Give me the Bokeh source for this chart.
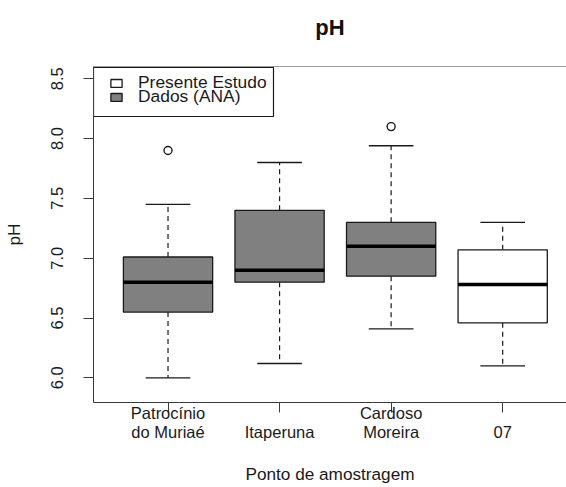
from bokeh.plotting import figure
from bokeh.models import (Range1d, FixedTicker, Legend, LegendItem, Span, BoxAnnotation,
                          ColumnDataSource, PrintfTickFormatter)
from bokeh.embed import file_html
from bokeh.resources import INLINE

# Sampling points (x positions 1..4) and their axis labels
pontos = ["Patrocínio do Muriaé", "Itaperuna", "Cardoso Moreira", "07"]
rotulos = ["Patrocínio\ndo Muriaé", "\nItaperuna", "Cardoso\nMoreira", "\n07"]
posicao = [1, 2, 3, 4]

# Box statistics of pH at each point
lim_inf = [6.00, 6.12, 6.41, 6.10]
q1 = [6.55, 6.80, 6.85, 6.46]
mediana = [6.80, 6.90, 7.10, 6.78]
q3 = [7.01, 7.40, 7.30, 7.07]
lim_sup = [7.45, 7.80, 7.94, 7.30]
fonte = ["Dados (ANA)", "Dados (ANA)", "Dados (ANA)", "Presente Estudo"]

# Outliers
out_x = [1, 3]
out_y = [7.90, 8.10]

y_ticks = [6.0, 6.5, 7.0, 7.5, 8.0, 8.5]

FONT = "Liberation Sans"
INK = "#1a1a1a"
AXIS = "#3a3a3a"
cores = {"Dados (ANA)": "#808080", "Presente Estudo": "#ffffff"}

larg = 0.8
src = ColumnDataSource(dict(
    x=posicao,
    left=[x - larg / 2 for x in posicao],
    right=[x + larg / 2 for x in posicao],
    cap_l=[x - larg / 4 for x in posicao],
    cap_r=[x + larg / 4 for x in posicao],
    lim_inf=lim_inf, q1=q1, mediana=mediana, q3=q3, lim_sup=lim_sup,
    cor=[cores[f] for f in fonte],
))

p = figure(width=566, height=487,
           x_range=Range1d(0.332, 4.572), y_range=Range1d(5.794, 8.6025),
           output_backend="svg", toolbar_location=None,
           min_border_left=92, min_border_right=0,
           min_border_top=66, min_border_bottom=84,
           title="pH\n")
p.background_fill_color = "white"
p.border_fill_color = "white"
p.outline_line_color = None
p.xgrid.visible = False
p.ygrid.visible = False

# Title (the trailing empty line lifts it away from the frame)
p.title.align = "center"
p.title.vertical_align = "top"
p.title.text_font = FONT
p.title.text_font_size = "22px"
p.title.text_font_style = "bold"
p.title.text_color = "#111111"
p.title.standoff = 0

# Whiskers (dashed) and caps
p.segment(x0="x", y0="q3", x1="x", y1="lim_sup", source=src,
          line_color=INK, line_width=1.2, line_dash="5 4")
p.segment(x0="x", y0="q1", x1="x", y1="lim_inf", source=src,
          line_color=INK, line_width=1.2, line_dash="5 4")
p.segment(x0="cap_l", y0="lim_sup", x1="cap_r", y1="lim_sup", source=src,
          line_color=INK, line_width=1.3)
p.segment(x0="cap_l", y0="lim_inf", x1="cap_r", y1="lim_inf", source=src,
          line_color=INK, line_width=1.3)

# Boxes
caixas = p.quad(left="left", right="right", bottom="q1", top="q3", source=src,
                fill_color="cor", line_color=INK, line_width=1.3)

# Medians
p.segment(x0="left", y0="mediana", x1="right", y1="mediana", source=src,
          line_color="#000000", line_width=3.5)

# Outliers
p.scatter(x=out_x, y=out_y, marker="circle", size=8, fill_color="white",
          line_color=INK, line_width=1.4)

# Axes
for ax in (p.xaxis[0], p.yaxis[0]):
    ax.axis_line_color = AXIS
    ax.major_tick_line_color = AXIS
    ax.major_tick_out = 10
    ax.major_tick_in = 0
    ax.minor_tick_line_color = None
    ax.major_label_text_font = FONT
    ax.major_label_text_font_size = "16.5px"
    ax.major_label_text_color = INK
    ax.axis_label_text_font = FONT
    ax.axis_label_text_font_size = "17.2px"
    ax.axis_label_text_font_style = "normal"
    ax.axis_label_text_color = INK

p.xaxis.ticker = FixedTicker(ticks=posicao)
p.xaxis.major_label_overrides = {x: r for x, r in zip(posicao, rotulos)}
p.xaxis.major_label_standoff = -9
p.xaxis.major_label_text_line_height = 1.085
p.xaxis.axis_label = "Ponto de amostragem"
p.xaxis.axis_label_standoff = 20

p.yaxis.ticker = FixedTicker(ticks=y_ticks)
p.yaxis.formatter = PrintfTickFormatter(format="%.1f")
p.yaxis.major_label_orientation = "vertical"
p.yaxis.major_label_standoff = 20
p.yaxis.axis_label = "pH"
p.yaxis.axis_label_standoff = 25

# Top edge of the plotting frame
p.add_layout(Span(location=p.y_range.end, dimension="width",
                  line_color=AXIS, line_width=1))

# Legend: framed box in the top-left corner holding two tightly stacked entries
p.add_layout(BoxAnnotation(left=93, right=273, top=67, bottom=116,
                           left_units="canvas", right_units="canvas",
                           top_units="canvas", bottom_units="canvas",
                           fill_color="white", fill_alpha=1.0,
                           line_color=INK, line_width=1.2, line_alpha=1.0))

estilo_legenda = dict(margin=0, padding=0, spacing=0,
                      glyph_width=14, glyph_height=10, label_standoff=15,
                      label_text_font=FONT, label_text_font_size="17.4px",
                      label_text_color=INK, border_line_color=None,
                      background_fill_alpha=0.0)
p.add_layout(Legend(items=[LegendItem(label="Presente Estudo", renderers=[caixas], index=3)],
                    location=(16, 309), **estilo_legenda))
p.add_layout(Legend(items=[LegendItem(label="Dados (ANA)", renderers=[caixas], index=0)],
                    location=(16, 295), **estilo_legenda))

open("out.html", "w").write(file_html(p, INLINE))
